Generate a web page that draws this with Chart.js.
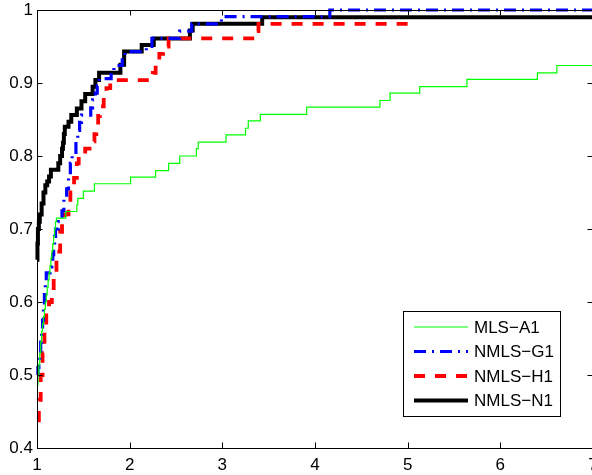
<!DOCTYPE html>
<html>
<head>
<meta charset="utf-8">
<script src="https://cdn.jsdelivr.net/npm/chart.js@4/dist/chart.umd.min.js"></script>
<style>
html,body{margin:0;padding:0;background:#fff;overflow:hidden;width:592px;height:475px;}
canvas{display:block;}
</style>
</head>
<body>
<canvas id="c" width="610" height="475"></canvas>
<script>
// ---- data ----
const seriesNames = ["MLS\u2212A1", "NMLS\u2212G1", "NMLS\u2212H1", "NMLS\u2212N1"];

const mlsA1X = [1.00,1.01,1.02,1.03,1.04,1.05,1.06,1.07,1.08,1.09,1.10,1.11,1.12,1.13,1.14,1.15,1.16,1.17,1.18,1.19,1.20,1.21,1.31,1.43,1.44,1.50,1.62,2.01,2.28,2.42,2.54,2.72,2.74,3.04,3.25,3.28,3.41,3.91,4.70,4.81,5.13,5.64,6.40,6.61,7.00];
const mlsA1Y = [0.486,0.50,0.515,0.53,0.545,0.56,0.57,0.58,0.59,0.60,0.61,0.62,0.63,0.64,0.65,0.66,0.67,0.68,0.69,0.70,0.71,0.715,0.724,0.733,0.742,0.752,0.762,0.771,0.780,0.790,0.800,0.810,0.819,0.829,0.838,0.848,0.857,0.867,0.876,0.886,0.895,0.905,0.914,0.924,0.924];

const nmlsG1X = [1.00,1.01,1.02,1.03,1.04,1.05,1.06,1.07,1.08,1.09,1.10,1.14,1.16,1.17,1.18,1.19,1.20,1.23,1.27,1.29,1.32,1.34,1.36,1.38,1.42,1.44,1.46,1.48,1.58,1.60,1.63,1.65,1.67,1.80,1.83,1.92,1.95,2.18,2.24,2.54,2.67,2.99,4.16,7.00];
const nmlsG1Y = [0.50,0.51,0.52,0.53,0.545,0.56,0.575,0.59,0.61,0.625,0.64,0.648,0.655,0.665,0.675,0.69,0.70,0.71,0.725,0.74,0.755,0.77,0.79,0.805,0.82,0.835,0.846,0.856,0.866,0.877,0.886,0.896,0.906,0.914,0.924,0.934,0.943,0.950,0.961,0.971,0.981,0.991,1.0,1.0];

const nmlsH1X = [1.00,1.02,1.04,1.06,1.08,1.10,1.13,1.16,1.18,1.21,1.25,1.27,1.30,1.34,1.36,1.40,1.43,1.45,1.52,1.60,1.62,1.64,1.66,1.68,1.72,1.75,1.79,2.25,2.28,2.32,2.36,2.42,3.36,3.39,5.05];
const nmlsH1Y = [0.438,0.466,0.50,0.53,0.56,0.59,0.60,0.616,0.644,0.669,0.696,0.71,0.72,0.74,0.75,0.77,0.79,0.80,0.81,0.82,0.83,0.84,0.855,0.868,0.88,0.893,0.904,0.914,0.93,0.94,0.95,0.961,0.971,0.981,0.981];

const nmlsN1X = [1.00,1.005,1.01,1.02,1.03,1.05,1.07,1.09,1.11,1.13,1.15,1.23,1.25,1.27,1.28,1.29,1.30,1.34,1.37,1.43,1.48,1.52,1.60,1.63,1.67,1.90,1.94,2.13,2.26,2.65,2.68,3.43,7.00];
const nmlsN1Y = [0.658,0.68,0.70,0.71,0.72,0.735,0.75,0.76,0.765,0.772,0.781,0.790,0.80,0.81,0.818,0.83,0.840,0.847,0.856,0.865,0.875,0.885,0.895,0.904,0.914,0.925,0.943,0.952,0.961,0.972,0.981,0.990,0.990];

const xTicks = [1,2,3,4,5,6,7];
const yTicks = [0.4,0.5,0.6,0.7,0.8,0.9,1];

const pts = (xs, ys) => xs.map((x, i) => ({x: x, y: ys[i]}));
const FONT = '"Liberation Sans", Arial, Helvetica, sans-serif';

const datasets = [
  {label: seriesNames[0], data: pts(mlsA1X, mlsA1Y), borderColor: '#00ff00', borderWidth: 1.2, borderDash: []},
  {label: seriesNames[1], data: pts(nmlsG1X, nmlsG1Y), borderColor: '#0000ff', borderWidth: 3.2, borderDash: [12, 6, 2, 6]},
  {label: seriesNames[2], data: pts(nmlsH1X, nmlsH1Y), borderColor: '#ff0000', borderWidth: 3.8, borderDash: [11, 10]},
  {label: seriesNames[3], data: pts(nmlsN1X, nmlsN1Y), borderColor: '#000000', borderWidth: 4, borderDash: []}
].map(d => Object.assign(d, {stepped: 'before', pointRadius: 0, fill: false, clip: 8, tension: 0}));

const frameAndLegend = {
  id: 'frameAndLegend',
  afterDatasetsDraw(chart) {
    const ctx = chart.ctx, a = chart.chartArea;
    const xs = chart.scales.x, ys = chart.scales.y;
    ctx.save();
    // frame
    ctx.strokeStyle = '#000';
    ctx.lineWidth = 1;
    ctx.setLineDash([]);
    ctx.strokeRect(Math.round(a.left) + 0.5, Math.round(a.top) + 0.5, Math.round(a.right - a.left), Math.round(a.bottom - a.top));
    // inward ticks
    const tl = 5.5;
    ctx.beginPath();
    xTicks.forEach(v => {
      const px = Math.round(xs.getPixelForValue(v)) + 0.5;
      ctx.moveTo(px, a.bottom); ctx.lineTo(px, a.bottom - tl);
      ctx.moveTo(px, a.top); ctx.lineTo(px, a.top + tl);
    });
    yTicks.forEach(v => {
      const py = Math.round(ys.getPixelForValue(v)) + 0.5;
      ctx.moveTo(a.left, py); ctx.lineTo(a.left + tl, py);
      ctx.moveTo(a.right, py); ctx.lineTo(a.right - tl, py);
    });
    ctx.stroke();

    // legend
    const boxL = a.left + 366, boxT = a.bottom - 137, boxW = 157, boxH = 105;
    ctx.fillStyle = '#fff';
    ctx.fillRect(boxL, boxT, boxW, boxH);
    ctx.strokeStyle = '#000';
    ctx.lineWidth = 1;
    ctx.strokeRect(Math.round(boxL) + 0.5, Math.round(boxT) + 0.5, boxW, boxH);
    ctx.font = '17px ' + FONT;
    ctx.textBaseline = 'middle';
    ctx.textAlign = 'left';
    chart.data.datasets.forEach((d, i) => {
      const cy = boxT + 16 + i * 24.5;
      ctx.beginPath();
      ctx.strokeStyle = d.borderColor;
      ctx.lineWidth = d.borderWidth;
      ctx.setLineDash(d.borderDash || []);
      ctx.moveTo(boxL + 11, cy);
      ctx.lineTo(boxL + 65, cy);
      ctx.stroke();
      ctx.setLineDash([]);
      ctx.fillStyle = '#000';
      ctx.fillText(d.label, boxL + 71, cy + 1);
    });
    ctx.restore();
  }
};

new Chart(document.getElementById('c'), {
  type: 'line',
  data: {datasets: datasets},
  options: {
    responsive: false,
    animation: false,
    devicePixelRatio: 1,
    layout: {padding: {top: 10, right: 17, left: 0, bottom: 0}},
    plugins: {legend: {display: false}, tooltip: {enabled: false}},
    scales: {
      x: {
        type: 'linear', min: 1, max: 7,
        grid: {display: false, drawTicks: false},
        border: {display: false},
        afterBuildTicks: s => { s.ticks = xTicks.map(v => ({value: v})); },
        afterFit: s => { s.height = 27; s.paddingLeft = 0; s.paddingRight = 0; },
        ticks: {color: '#000', font: {family: FONT, size: 17}, padding: 7, maxRotation: 0, autoSkip: false, callback: v => String(v)}
      },
      y: {
        type: 'linear', min: 0.4, max: 1,
        grid: {display: false, drawTicks: false},
        border: {display: false},
        afterBuildTicks: s => { s.ticks = yTicks.map(v => ({value: v})); },
        afterFit: s => { s.width = 37; s.paddingTop = 0; s.paddingBottom = 0; },
        ticks: {color: '#000', font: {family: FONT, size: 17}, padding: 4, autoSkip: false, callback: v => String(Math.round(v * 10) / 10)}
      }
    }
  },
  plugins: [frameAndLegend]
});
</script>
</body>
</html>
